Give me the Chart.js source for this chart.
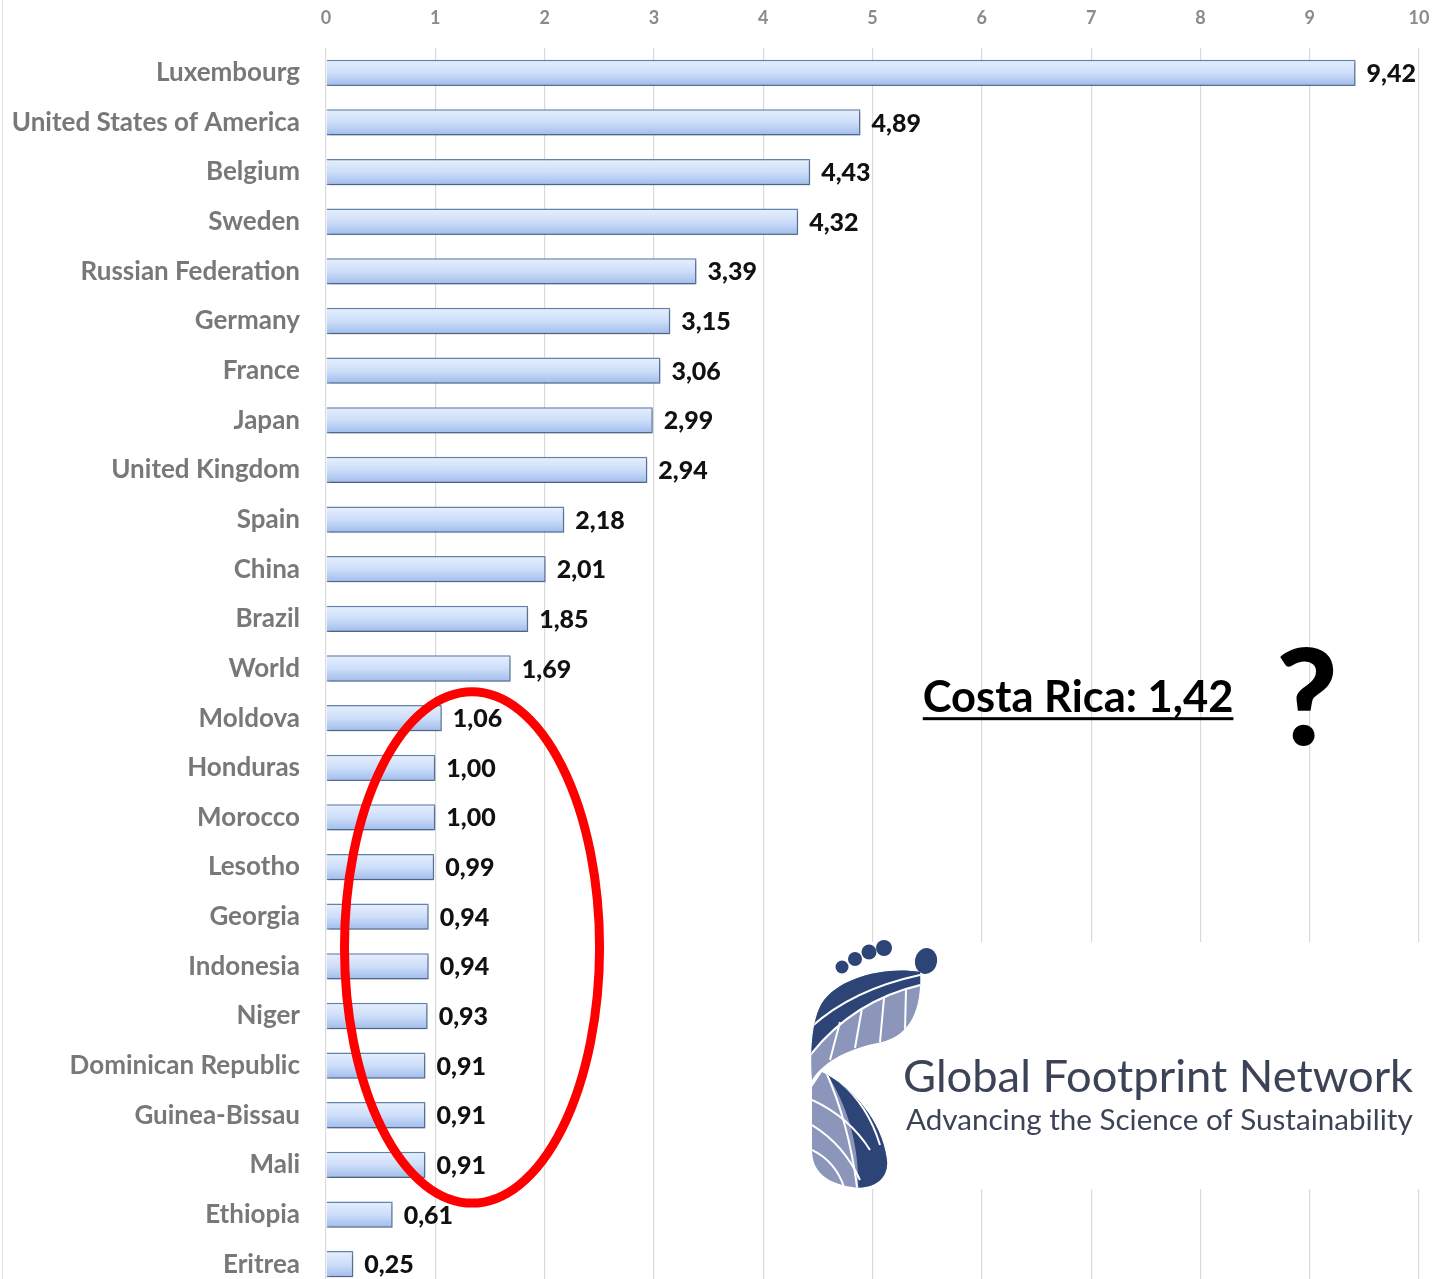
<!DOCTYPE html>
<html>
<head>
<meta charset="utf-8">
<script src="https://cdn.jsdelivr.net/npm/chart.js@4.4.1/dist/chart.umd.min.js"></script>
<style>
  html, body { margin: 0; padding: 0; background: #fff; overflow: hidden; }
  canvas { display: block; }
</style>
</head>
<body>
<canvas id="chart" width="1446" height="1300"></canvas>
<script>
const countries = ['Luxembourg', 'United States of America', 'Belgium', 'Sweden', 'Russian Federation',
  'Germany', 'France', 'Japan', 'United Kingdom', 'Spain', 'China', 'Brazil', 'World', 'Moldova',
  'Honduras', 'Morocco', 'Lesotho', 'Georgia', 'Indonesia', 'Niger', 'Dominican Republic',
  'Guinea-Bissau', 'Mali', 'Ethiopia', 'Eritrea'];
const footprint = [9.42, 4.89, 4.43, 4.32, 3.39, 3.15, 3.06, 2.99, 2.94, 2.18, 2.01, 1.85, 1.69, 1.06,
  1.00, 1.00, 0.99, 0.94, 0.94, 0.93, 0.91, 0.91, 0.91, 0.61, 0.25];
const xTicks = [0, 1, 2, 3, 4, 5, 6, 7, 8, 9, 10];

const fmt = v => v.toFixed(2).replace('.', ',');

// vertical gradient for each bar, placed from the category scale
function barFill(context) {
  const chart = context.chart;
  const y = chart.scales.y;
  if (!y || context.dataIndex === undefined) return '#c9dbf8';
  const c = y.getPixelForValue(context.dataIndex);
  if (!isFinite(c)) return '#c9dbf8';
  const g = chart.ctx.createLinearGradient(0, c - 13, 0, c + 13);
  g.addColorStop(0, '#e6effd');
  g.addColorStop(0.5, '#cddef9');
  g.addColorStop(1, '#a0bcec');
  return g;
}

const barShadow = {
  id: 'barShadow',
  beforeDatasetsDraw(chart) {
    const ctx = chart.ctx;
    ctx.save();
    ctx.shadowColor = 'rgba(0,0,0,0.3)';
    ctx.shadowBlur = 3;
    ctx.shadowOffsetX = 1;
    ctx.shadowOffsetY = 2;
  },
  afterDatasetsDraw(chart) {
    chart.ctx.restore();
  }
};

const valueLabels = {
  id: 'valueLabels',
  afterDatasetsDraw(chart) {
    const ctx = chart.ctx;
    const meta = chart.getDatasetMeta(0);
    ctx.save();
    ctx.font = '900 25px Lato';
    ctx.fillStyle = '#111';
    ctx.textAlign = 'left';
    ctx.textBaseline = 'middle';
    meta.data.forEach((bar, i) => {
      ctx.fillText(fmt(footprint[i]), bar.x + 11, bar.y + 1);
    });
    ctx.restore();
  }
};

function drawLogo(ctx) {
  ctx.save();
  ctx.fillStyle = '#fff';
  ctx.fillRect(812, 942, 608, 247);

  const dark = '#2d4477';
  const light = '#8b96ba';

  // toes
  ctx.fillStyle = dark;
  [[842, 967, 6.5], [855, 959, 7], [869, 952, 7.5], [884, 948, 8]].forEach(t => {
    ctx.beginPath(); ctx.arc(t[0], t[1], t[2], 0, Math.PI * 2); ctx.fill();
  });
  ctx.beginPath(); ctx.ellipse(926, 961, 11, 13, 0.2, 0, Math.PI * 2); ctx.fill();

  // forefoot
  ctx.beginPath();
  ctx.moveTo(920, 972);
  ctx.bezierCurveTo(885, 966, 838, 978, 822, 1003);
  ctx.bezierCurveTo(812, 1020, 810, 1050, 812, 1080);
  ctx.bezierCurveTo(825, 1060, 850, 1048, 882, 1042);
  ctx.bezierCurveTo(910, 1035, 922, 1010, 920, 972);
  ctx.closePath();
  ctx.fillStyle = light;
  ctx.fill();
  ctx.save();
  ctx.clip();
  ctx.beginPath();
  ctx.moveTo(805, 1062);
  ctx.quadraticCurveTo(850, 1000, 925, 984);
  ctx.lineTo(925, 950);
  ctx.lineTo(805, 950);
  ctx.closePath();
  ctx.fillStyle = dark;
  ctx.fill();
  ctx.strokeStyle = '#fff';
  ctx.lineWidth = 2;
  ctx.beginPath();
  ctx.moveTo(805, 1062); ctx.quadraticCurveTo(850, 1000, 925, 984); ctx.stroke();
  ctx.beginPath(); ctx.moveTo(808, 1030); ctx.quadraticCurveTo(850, 990, 920, 975); ctx.stroke();
  ctx.beginPath(); ctx.moveTo(830, 1060); ctx.lineTo(840, 1022); ctx.stroke();
  ctx.beginPath(); ctx.moveTo(855, 1048); ctx.lineTo(862, 1008); ctx.stroke();
  ctx.beginPath(); ctx.moveTo(880, 1042); ctx.lineTo(884, 998); ctx.stroke();
  ctx.beginPath(); ctx.moveTo(905, 1030); ctx.lineTo(906, 990); ctx.stroke();
  ctx.restore();

  // heel
  ctx.beginPath();
  ctx.moveTo(822, 1072);
  ctx.bezierCurveTo(852, 1087, 882, 1120, 887, 1160);
  ctx.bezierCurveTo(889, 1180, 872, 1190, 852, 1187);
  ctx.bezierCurveTo(825, 1183, 812, 1170, 812, 1150);
  ctx.lineTo(812, 1087);
  ctx.closePath();
  ctx.fillStyle = light;
  ctx.fill();
  ctx.save();
  ctx.clip();
  ctx.beginPath();
  ctx.moveTo(826, 1072);
  ctx.bezierCurveTo(850, 1110, 860, 1150, 858, 1195);
  ctx.lineTo(900, 1195);
  ctx.lineTo(900, 1060);
  ctx.closePath();
  ctx.fillStyle = dark;
  ctx.fill();
  ctx.strokeStyle = '#fff';
  ctx.lineWidth = 2;
  [[812, 1100, 870, 1150], [812, 1125, 860, 1180], [812, 1150, 845, 1190], [826, 1072, 858, 1195],
   [840, 1082, 880, 1145]].forEach(l => {
    ctx.beginPath(); ctx.moveTo(l[0], l[1]);
    ctx.quadraticCurveTo((l[0] + l[2]) / 2 + 8, (l[1] + l[3]) / 2 - 8, l[2], l[3]); ctx.stroke();
  });
  ctx.restore();

  // logo text, sized to fit
  ctx.fillStyle = '#3c4356';
  ctx.textAlign = 'left';
  ctx.textBaseline = 'alphabetic';
  let t1 = 'Global Footprint Network';
  ctx.font = '50px Lato';
  let s1 = 50 * 510 / ctx.measureText(t1).width;
  ctx.font = s1.toFixed(1) + 'px Lato';
  ctx.fillText(t1, 903, 1092);
  let t2 = 'Advancing the Science of Sustainability';
  ctx.font = '30px Lato';
  let s2 = 30 * 507 / ctx.measureText(t2).width;
  ctx.font = s2.toFixed(1) + 'px Lato';
  ctx.fillText(t2, 906, 1130);
  ctx.restore();
}

const extras = {
  id: 'extras',
  afterDraw(chart) {
    const ctx = chart.ctx;
    const x = chart.scales.x;
    const y = chart.scales.y;

    // left page edge
    ctx.save();
    ctx.strokeStyle = '#e2e2e2';
    ctx.lineWidth = 1;
    ctx.beginPath(); ctx.moveTo(2.5, 0); ctx.lineTo(2.5, 1300); ctx.stroke();
    ctx.restore();

    drawLogo(ctx);

    // red ellipse around the low-footprint countries
    ctx.save();
    const cx = x.getPixelForValue(1.336);
    const rx = x.getPixelForValue(1.167) - x.getPixelForValue(0);
    const cy = y.getPixelForValue(17.62);
    const ry = 5.15 * (y.getPixelForValue(1) - y.getPixelForValue(0));
    ctx.strokeStyle = '#ff0000';
    ctx.lineWidth = 9;
    ctx.beginPath();
    ctx.ellipse(cx, cy, rx, ry, 0, 0, Math.PI * 2);
    ctx.stroke();

    // Costa Rica note
    const tx = x.getPixelForValue(5.46);
    const ty = y.getPixelForValue(12.88);
    ctx.font = 'bold 43.5px Lato';
    ctx.fillStyle = '#000';
    ctx.textAlign = 'left';
    ctx.textBaseline = 'alphabetic';
    const label = 'Costa Rica: 1,42';
    ctx.fillText(label, tx, ty);
    const w = ctx.measureText(label).width;
    ctx.fillRect(tx, ty + 5, w, 3);

    ctx.font = '900 134px Lato';
    ctx.textAlign = 'center';
    ctx.fillText('?', x.getPixelForValue(8.975), y.getPixelForValue(13.54));
    ctx.restore();
  }
};

new Chart(document.getElementById('chart'), {
  type: 'bar',
  data: {
    labels: countries,
    datasets: [{
      data: footprint,
      backgroundColor: barFill,
      borderColor: '#6383b0',
      borderWidth: 1.5,
      barPercentage: 0.53,
      categoryPercentage: 1
    }]
  },
  options: {
    indexAxis: 'y',
    responsive: false,
    animation: false,
    layout: { autoPadding: false, padding: { left: 0, right: 27, top: 0, bottom: 11 } },
    plugins: {
      legend: { display: false },
      tooltip: { enabled: false }
    },
    scales: {
      x: {
        position: 'top',
        min: 0,
        max: 10,
        afterBuildTicks: s => { s.ticks = xTicks.map(v => ({ value: v })); },
        afterFit: s => { s.height = 48; s.paddingLeft = 0; s.paddingRight = 0; },
        grid: { color: '#dadada', lineWidth: 1.2, drawTicks: false },
        border: { display: false },
        ticks: {
          padding: 19,
          color: '#8a8a8a',
          font: { family: 'Lato', size: 18, weight: 'bold' }
        }
      },
      y: {
        afterFit: s => { s.width = 326; s.paddingTop = 0; s.paddingBottom = 0; },
        grid: { display: false, drawTicks: false },
        border: { display: false },
        ticks: {
          padding: 26,
          color: '#787878',
          font: { family: 'Lato', size: 26, weight: 'bold' }
        }
      }
    }
  },
  plugins: [barShadow, valueLabels, extras]
});
</script>
</body>
</html>
